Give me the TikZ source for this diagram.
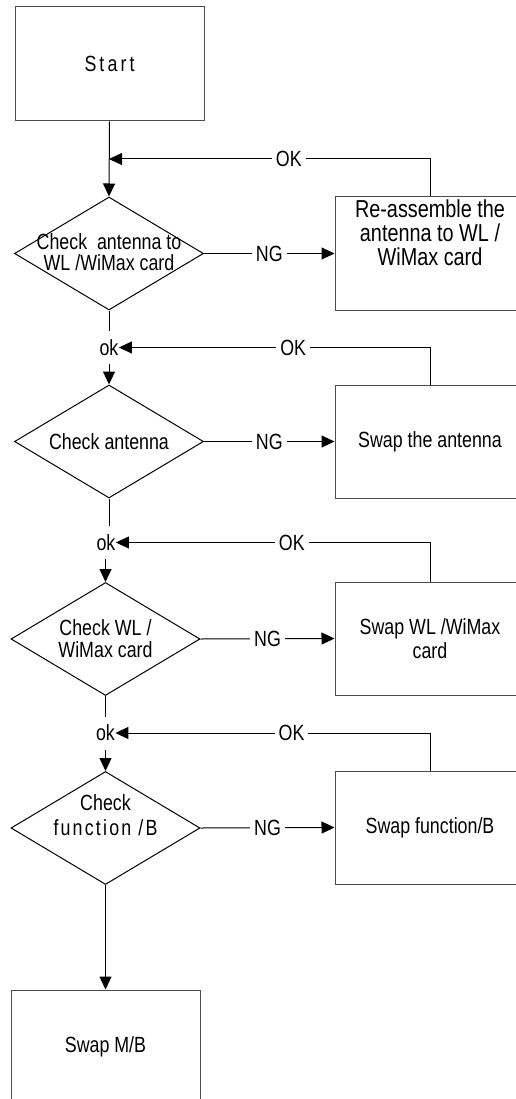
\documentclass[tikz,border=0pt]{standalone}
\usepackage{fontspec}
\setmainfont{Liberation Sans}[FakeStretch=0.81]
\usetikzlibrary{arrows.meta,shapes.geometric}
\begin{document}
\begin{tikzpicture}[x=1pt,y=-1pt,line width=1pt,
  every node/.style={font=\fontsize{22}{22}\selectfont},
  box/.style={draw=black!70, rectangle, minimum width=190pt, minimum height=113pt, inner sep=0pt},
  dia/.style={draw, diamond, minimum width=189pt, minimum height=113pt, inner sep=0pt},
  txt/.style={align=center, inner sep=0pt},
  lbl/.style={fill=white, inner sep=4pt},
  okn/.style={inner sep=0pt, minimum height=32pt},
  arr/.style={-{Triangle[length=13pt,width=12pt]}}
]
\clip (0,0) rectangle (516,1099);
% nodes
\node[box, minimum width=189pt, minimum height=114pt] (start) at (109.5,64) {\addfontfeature{LetterSpace=14}Start};

\node[dia] (d1) at (109,253.5) {};
\node[txt, font=\fontsize{22}{20.5}\selectfont] at (109,252) {Check\ \ antenna to\\WL /WiMax card};
\node[box] (b1) at (430,253.5) {};
\node[txt, font=\fontsize{24.5}{24}\selectfont] at (430,232.5) {Re-assemble the\\antenna to WL /\\WiMax card};
\coordinate (j0) at (109,159);

\node[okn] (k1) at (109,347.5) {ok};
\node[dia] (d2) at (109,441.5) {};
\node[txt] at (109,442) {Check antenna};
\node[box] (b2) at (430,441.5) {Swap the antenna};

\node[okn] (k2) at (106,542.5) {ok};
\node[dia] (d3) at (105.5,639) {};
\node[txt, font=\fontsize{22}{22}\selectfont] at (105.5,638.5) {Check WL /\\WiMax card};
\node[box] (b3) at (430,638.5) {};
\node[txt, font=\fontsize{22}{24}\selectfont] at (430,639) {Swap WL /WiMax\\card};

\node[okn] (k3) at (105.5,733) {ok};
\node[dia] (d4) at (105.5,828) {};
\node[txt, font=\fontsize{22}{25}\selectfont] at (105.5,815) {Check\\{\addfontfeature{LetterSpace=10}function /B}};
\node[box] (b4) at (430,827.5) {Swap function/B};

\node[box, minimum width=189pt, minimum height=114pt] (b5) at (105.5,1047) {Swap M/B};

% connectors
\draw[arr] (start.south) -- (d1.north);
\draw[arr] (b1.north) |- node[lbl,pos=0.72]{OK} (j0);
\draw[arr] (d1.east) -- node[lbl]{NG} (b1.west);

\draw (d1.south) -- (k1.north);
\draw[arr] (k1.south) -- (d2.north);
\draw[arr] (b2.north) |- node[lbl,pos=0.72]{OK} (k1.east);
\draw[arr] (d2.east) -- node[lbl]{NG} (b2.west);

\draw (d2.south) -- (d2.south |- k2.north);
\draw[arr] (d3.north |- k2.south) -- (d3.north);
\draw[arr] (b3.north) |- node[lbl,pos=0.72]{OK} (k2.east);
\draw[arr] (d3.east) -- node[lbl]{NG} (b3.west);

\draw (d3.south) -- (k3.north);
\draw[arr] (k3.south) -- (d4.north);
\draw[arr] (b4.north) |- node[lbl,pos=0.72]{OK} (k3.east);
\draw[arr] (d4.east) -- node[lbl]{NG} (b4.west);

\draw[arr] (d4.south) -- (b5.north);
\end{tikzpicture}
\end{document}
